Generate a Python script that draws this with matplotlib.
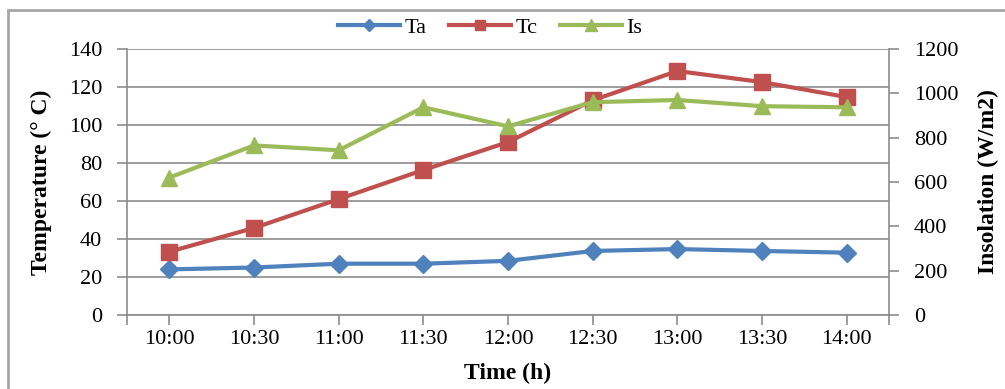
import numpy as np
import matplotlib
matplotlib.use("Agg")
from matplotlib import pyplot as plt
from matplotlib.patches import Rectangle

times = ["10:00", "10:30", "11:00", "11:30", "12:00", "12:30", "13:00", "13:30", "14:00"]
ta = [24, 25, 27, 27, 28.5, 33.7, 34.7, 33.7, 32.8]
tc = [33.3, 45.8, 61, 76.3, 91, 113, 128.4, 122.6, 114.7]
insol = [620, 765, 743, 937, 851, 960, 970, 942, 937]

plt.rcParams['font.family'] = ['Liberation Serif', 'DejaVu Serif']

fig = plt.figure(figsize=(10.05, 3.89), dpi=100)
W, H = 1005, 389
ax = fig.add_axes([127 / W, 1 - 315 / H, (889 - 127) / W, (315 - 49) / H])
ax2 = ax.twinx()

x = np.arange(len(times))
grid_c = '#8c8c8c'

l1, = ax.plot(x, ta, color='#4F81BD', lw=3, marker='D', ms=9, label='Ta', zorder=3)
l2, = ax.plot(x, tc, color='#C0504D', lw=3, marker='s', ms=11, label='Tc', zorder=3)
l3, = ax2.plot(x, insol, color='#9BBB59', lw=3, marker='^', ms=12, label='Is', zorder=3)

ax.set_xlim(-0.5, len(times) - 0.5)
ax.set_ylim(0, 140)
ax.set_yticks(np.arange(0, 141, 20))
ax2.set_ylim(0, 1200)
ax2.set_yticks(np.arange(0, 1201, 200))
ax.set_xticks(x)
ax.set_xticklabels(times)
ax.set_xticks([-0.5, len(times) - 0.5], minor=True)

ax.yaxis.grid(True, color=grid_c, lw=1.2)
ax.set_axisbelow(True)

for a in (ax, ax2):
    for s in a.spines.values():
        s.set_visible(False)
    a.tick_params(labelsize=16, color=grid_c, length=7, width=1.2, pad=11)
ax.tick_params(axis='x', which='both', length=7, color=grid_c, width=1.2, pad=4)
for s in ('left', 'bottom'):
    ax.spines[s].set_visible(True)
    ax.spines[s].set_color(grid_c)
    ax.spines[s].set_linewidth(1.2)
ax2.spines['right'].set_visible(True)
ax2.spines['right'].set_color(grid_c)
ax2.spines['right'].set_linewidth(1.2)

ax.set_ylabel('Temperature (° C)', fontsize=17, fontweight='bold', labelpad=12)
ax2.set_ylabel('Insolation (W/m2)', fontsize=17, fontweight='bold', labelpad=14)
ax.set_xlabel('Time (h)', fontsize=17, fontweight='bold', labelpad=10)

fig.legend(handles=[l1, l2, l3], loc='center', bbox_to_anchor=(490 / W, 1 - 28 / H),
           ncol=3, frameon=False, fontsize=16, handlelength=2.8, columnspacing=1.0,
           handletextpad=0.2, markerscale=0.7)

fig.patches.append(Rectangle((8 / W, -0.1), 1.2, 1 - 10 / H + 0.1, transform=fig.transFigure,
                             fill=False, edgecolor='#a6a6a6', lw=2))

plt.savefig('out.png', dpi=100)
